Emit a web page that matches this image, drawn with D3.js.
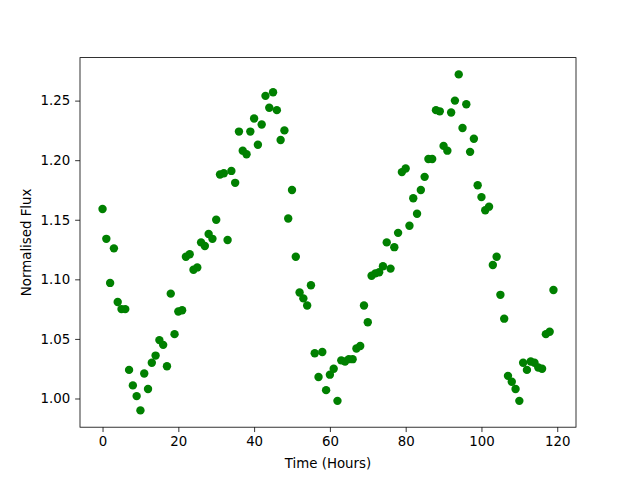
<!DOCTYPE html>
<html>
<head>
<meta charset="utf-8">
<script src="https://cdn.jsdelivr.net/npm/d3@7"></script>
<style>
  body { margin: 0; background: #fff; }
  svg { display: block; }
  text { font-family: "DejaVu Sans", sans-serif; }
</style>
</head>
<body>
<svg id="chart" width="640" height="480"></svg>
<script>
const hours = d3.range(0, 120);
const flux = [
  1.159, 1.134, 1.097, 1.126, 1.081, 1.075, 1.075, 1.024, 1.011, 1.002,
  0.990, 1.021, 1.008, 1.030, 1.036, 1.049, 1.045, 1.027, 1.088, 1.054,
  1.073, 1.074, 1.119, 1.121, 1.108, 1.110, 1.131, 1.128, 1.138, 1.134,
  1.150, 1.188, 1.189, 1.133, 1.191, 1.181, 1.224, 1.208, 1.205, 1.224,
  1.235, 1.213, 1.230, 1.254, 1.244, 1.257, 1.242, 1.217, 1.225, 1.151,
  1.175, 1.119, 1.089, 1.084, 1.078, 1.095, 1.038, 1.018, 1.039, 1.007,
  1.020, 1.025, 0.998, 1.032, 1.031, 1.033, 1.033, 1.042, 1.044, 1.078,
  1.064, 1.103, 1.105, 1.106, 1.111, 1.131, 1.109, 1.127, 1.139, 1.190,
  1.193, 1.145, 1.168, 1.155, 1.175, 1.186, 1.201, 1.201, 1.242, 1.241,
  1.212, 1.208, 1.240, 1.250, 1.272, 1.227, 1.247, 1.207, 1.218, 1.179,
  1.169, 1.158, 1.161, 1.112, 1.119, 1.087, 1.067, 1.019, 1.014, 1.008,
  0.998, 1.030, 1.024, 1.031, 1.030, 1.026, 1.025, 1.054, 1.056, 1.091
];
const xTicks = [0, 20, 40, 60, 80, 100, 120];
const yTicks = [1.00, 1.05, 1.10, 1.15, 1.20, 1.25];
const xLabel = "Time (Hours)";
const yLabel = "Normalised Flux";

(function () {
const svg = d3.select("#chart");
const mLeft = 80, mRight = 576, mTop = 57.6, mBottom = 427.2;

function padded(ext) {
  const m = (ext[1] - ext[0]) * 0.05;
  return [ext[0] - m, ext[1] + m];
}
const x = d3.scaleLinear().domain(padded(d3.extent(hours))).range([mLeft, mRight]);
const y = d3.scaleLinear().domain(padded(d3.extent(flux))).range([mBottom, mTop]);

const data = hours.map((h, i) => ({ h, f: flux[i] }));

svg.append("g").selectAll("circle").data(data).join("circle")
  .attr("cx", d => x(d.h))
  .attr("cy", d => y(d.f))
  .attr("r", 4.2)
  .attr("fill", "#008000");

const xAxis = svg.append("g")
  .attr("transform", `translate(0,${mBottom})`)
  .call(d3.axisBottom(x).tickValues(xTicks).tickFormat(d3.format("d")).tickSize(4.86).tickPadding(4.9));
const yAxis = svg.append("g")
  .attr("transform", `translate(${mLeft},0)`)
  .call(d3.axisLeft(y).tickValues(yTicks).tickFormat(d3.format(".2f")).tickSize(4.86).tickPadding(4.9));

[xAxis, yAxis].forEach(a => {
  a.select(".domain").remove();
  a.selectAll(".tick line").attr("stroke", "#000").attr("stroke-width", 0.8);
  a.selectAll(".tick text").attr("font-size", "13.33px").attr("fill", "#000")
    .attr("font-family", "DejaVu Sans, sans-serif");
});

svg.append("rect")
  .attr("x", mLeft).attr("y", mTop)
  .attr("width", mRight - mLeft).attr("height", mBottom - mTop)
  .attr("fill", "none").attr("stroke", "#000").attr("stroke-width", 0.8);

svg.append("text")
  .attr("x", (mLeft + mRight) / 2).attr("y", 468)
  .attr("text-anchor", "middle").attr("font-size", "13.33px")
  .text(xLabel);

svg.append("text")
  .attr("transform", `translate(31,${(mTop + mBottom) / 2}) rotate(-90)`)
  .attr("text-anchor", "middle").attr("font-size", "13.33px")
  .text(yLabel);
})();
</script>
</body>
</html>
